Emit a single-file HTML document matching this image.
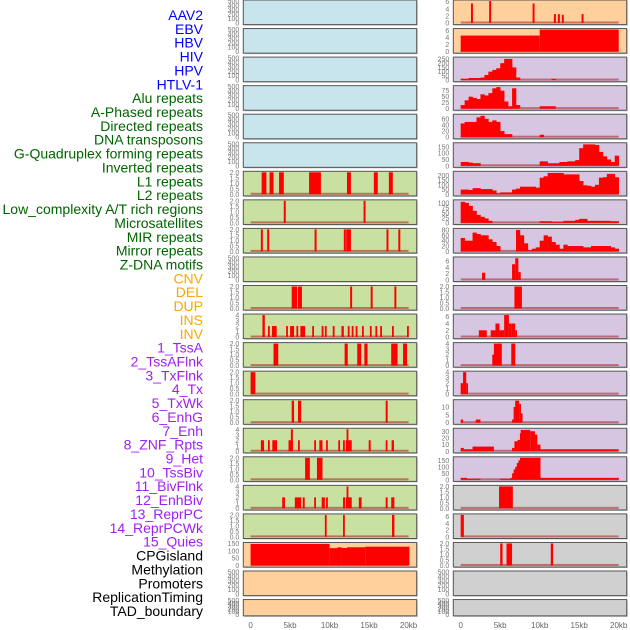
<!DOCTYPE html>
<html><head><meta charset="utf-8">
<style>
html,body{margin:0;padding:0;background:#fff;}
svg{display:block;font-family:"Liberation Sans",sans-serif;}
</style></head>
<body>
<svg id="chart" width="630" height="630" viewBox="0 0 630 630" xmlns="http://www.w3.org/2000/svg"></svg>
<script>
// ---------- labels ----------
const trackLabels = ["AAV2","EBV","HBV","HIV","HPV","HTLV-1","Alu repeats","A-Phased repeats","Directed repeats","DNA transposons","G-Quadruplex forming repeats","Inverted repeats","L1 repeats","L2 repeats","Low_complexity A/T rich regions","Microsatellites","MIR repeats","Mirror repeats","Z-DNA motifs","CNV","DEL","DUP","INS","INV","1_TssA","2_TssAFlnk","3_TxFlnk","4_Tx","5_TxWk","6_EnhG","7_Enh","8_ZNF_Rpts","9_Het","10_TssBiv","11_BivFlnk","12_EnhBiv","13_ReprPC","14_ReprPCWk","15_Quies","CPGisland","Methylation","Promoters","ReplicationTiming","TAD_boundary"];
const labelGroups = [6,13,5,15,5];
const groupColors = ["#0000ff","#006400","#ffa500","#a020f0","#000000"];
const xTickKb = [0,5,10,15,20];
const xTickLabels = ["0","5kb","10kb","15kb","20kb"];

// ---------- tick sets ----------
const ticksEmpty = ["0","100","200","300","400","500"];
const ticks2 = ["0.0","0.5","1.0","1.5","2.0"];
const ticks4 = ["0","1","2","3","4"];
const ticks6 = ["0","2","4","6"];

// ---------- left column data: [startKb, endKb, value] ----------
const leftL1 = [[1.4,2.0,2],[2.4,2.9,2],[3.6,4.2,2],[7.4,8.9,2],[12.2,12.7,2],[15.6,16.1,2],[17.5,18.0,2]];
const leftL2 = [[4.2,4.45,2],[14.3,14.55,2]];
const leftMicro = [[1.3,1.55,2],[2.1,2.35,2],[8.1,8.35,2],[11.8,12.05,2],[12.1,12.7,2],[17.2,17.45,2],[18.7,18.95,2]];
const leftDel = [[5.2,5.9,2],[6.0,6.5,2],[12.6,12.85,2],[15.2,15.45,2],[18.2,18.45,2]];
const leftIns = [[1.5,1.8,4],[2.2,2.4,2],[2.7,3.3,2],[4.5,4.7,2],[5.0,5.5,2],[5.8,6.0,2],[6.3,6.9,2],[7.8,8.0,2],[9.0,9.2,2],[9.4,9.6,2],[10.4,10.6,2],[11.5,11.8,2],[12.3,12.5,2],[12.8,13.0,2],[13.3,13.5,2],[14.1,14.3,2],[15.1,15.3,2],[15.8,16.0,2],[16.4,16.6,2],[17.9,18.1,2],[19.8,20.0,2]];
const leftTssA = [[2.9,3.5,2],[11.9,12.3,2],[13.5,14.0,2],[14.4,14.8,2],[17.8,18.6,2],[19.3,19.8,2]];
const leftTssAFlnk = [[0,0.6,2]];
const leftTx = [[5.2,5.5,2],[6.0,6.4,2],[17.1,17.35,2]];
const leftEnhG = [[1.3,1.7,2],[2.2,2.4,2],[2.75,3.35,2],[4.8,5.35,2],[5.1,5.35,4],[6.0,6.2,2],[8.05,8.25,2],[8.7,9.1,2],[9.55,9.75,2],[11.1,11.3,2],[11.7,11.9,2],[12.05,12.8,2],[12.15,12.35,4],[14.95,15.2,2],[17.1,17.3,2],[17.85,18.15,2]];
const leftZnf = [[6.9,7.5,2],[8.4,9.1,2]];
const leftTssBiv = [[4.0,4.35,2],[5.6,6.4,2],[6.6,6.85,2],[8.05,8.25,2],[9.0,9.4,2],[9.55,9.75,2],[11.7,11.95,2],[12.05,12.8,2],[12.15,12.35,4],[13.7,14.05,2],[17.1,17.35,2],[17.8,18.2,2]];
const leftEnhBiv = [[9.4,9.6,2],[11.7,11.9,2],[17.9,18.2,2]];
const leftCpg = [[0,10,147],[10,11,118],[11,11.5,124],[11.5,12.2,119],[12.2,14.5,124],[14.5,20.1,128]];

// ---------- right column data ----------
const rightAav2 = [[1.3,1.55,5.5],[3.6,3.85,6.2],[9.1,9.35,5.5],[11.8,12.05,2.5],[12.3,12.55,2.5],[12.8,13.05,2.3],[15.3,15.55,2.5]];
const rightEbv = [[0,10,4.5],[10,20,6.2]];
// histograms: values per 0.5kb bin (40 bins)
const rightHiv = [15,15,25,25,25,30,60,100,120,140,200,250,250,150,30,0,0,0,0,0,0,0,0,15,0,0,0,0,0,0,0,0,0,0,0,0,0,0,0,0];
const rightAlu = [15,35,50,45,40,60,55,65,85,90,75,30,10,85,15,0,0,0,0,0,10,10,10,10,0,0,0,0,0,0,0,0,0,0,0,0,0,0,0,0];
const rightDirected = [45,50,50,50,65,70,60,50,55,50,20,10,10,0,0,0,0,0,0,0,8,0,0,0,0,0,0,0,0,0,0,0,0,0,0,0,0,0,0,0];
const rightGquad = [30,30,25,20,20,0,0,0,0,0,0,0,0,0,0,0,0,0,0,0,35,35,20,20,20,30,30,35,35,45,140,170,170,170,165,110,75,50,30,80];
const rightL1 = [50,50,45,65,65,55,55,55,40,10,20,20,20,50,60,80,80,80,80,70,175,190,225,225,225,225,210,210,210,210,140,95,90,80,100,175,180,215,215,180];
const rightLowc = [105,100,85,60,40,30,22,10,0,0,0,0,0,0,0,0,0,0,0,0,8,8,8,5,5,5,10,10,10,15,20,20,10,10,10,10,10,10,8,8];
const rightMir = [50,40,40,70,65,60,60,45,35,20,0,0,0,0,80,60,30,5,10,15,40,60,55,35,25,10,25,20,20,20,20,15,15,20,20,20,20,20,15,10];
const rightZdna = [[2.7,3.1,2.3],[6.5,6.9,5],[6.9,7.3,6.9],[7.3,7.6,2.5]];
const rightCnv = [[6.8,7.75,2]];
const rightDel = [[2.3,3.3,2],[3.8,4.4,2],[4.4,4.9,4],[4.9,5.5,2],[5.5,6.1,6.5],[6.1,6.4,4],[6.4,6.9,4],[6.9,7.0,2]];
const rightDup = [[4.0,4.2,2],[4.2,5.2,4],[6.4,6.9,4]];
const rightIns = [[0,0.3,2],[0.3,0.7,4],[0.7,0.85,2]];
const rightInv = [[0,0.3,2],[1.9,2.5,2],[6.5,6.7,2],[6.7,6.9,10],[6.9,7.4,14],[7.4,7.6,12],[7.6,7.8,6]];
const rightTssA = [[0,0.4,5],[0.4,1.5,3],[1.5,4.2,7],[6.5,6.8,5],[6.8,7.2,15],[7.2,7.5,17],[7.5,7.6,27],[7.6,8.8,32],[8.8,9.4,30],[9.4,9.7,25],[9.7,10.1,10],[10.1,20,3]];
const rightTssAFlnk = [[0,0.8,15],[0.8,2.5,8],[5.0,6.3,8],[6.3,6.5,15],[6.5,6.7,50],[6.7,6.9,80],[6.9,7.1,100],[7.1,7.3,130],[7.3,7.5,150],[7.5,10.1,170],[10.1,20,15]];
const rightTx = [[4.85,6.6,2]];
const rightTxWk = [[0,0.4,6.5]];
const rightEnhG = [[5.0,5.3,2],[5.8,6.5,2],[11.4,11.7,2]];

// ---------- panel layout ----------
const BG = {blue:"#c8e4ec",green:"#c8e0a0",orange:"#ffd09c",purple:"#d6c6e2",gray:"#d0d0d0"};
const panels = [
 // left
 {side:"L",row:0,bg:"blue",max:500,ticks:ticksEmpty,name:"aav2-left"},
 {side:"L",row:1,bg:"blue",max:500,ticks:ticksEmpty,name:"ebv-left"},
 {side:"L",row:2,bg:"blue",max:500,ticks:ticksEmpty,name:"hbv-left"},
 {side:"L",row:3,bg:"blue",max:500,ticks:ticksEmpty,name:"hiv-left"},
 {side:"L",row:4,bg:"blue",max:500,ticks:ticksEmpty,name:"hpv-left"},
 {side:"L",row:5,bg:"blue",max:500,ticks:ticksEmpty,name:"htlv-left"},
 {side:"L",row:6,bg:"green",max:2,ticks:ticks2,seg:leftL1,name:"l1-left"},
 {side:"L",row:7,bg:"green",max:2,ticks:ticks2,seg:leftL2,name:"l2-left"},
 {side:"L",row:8,bg:"green",max:2,ticks:ticks2,seg:leftMicro,name:"microsat-left"},
 {side:"L",row:9,bg:"green",max:500,ticks:ticksEmpty,name:"zdna-left"},
 {side:"L",row:10,bg:"green",max:2,ticks:ticks2,seg:leftDel,name:"del-left"},
 {side:"L",row:11,bg:"green",max:4,ticks:ticks4,seg:leftIns,name:"ins-left"},
 {side:"L",row:12,bg:"green",max:2,ticks:ticks2,seg:leftTssA,name:"tssa-left"},
 {side:"L",row:13,bg:"green",max:2,ticks:ticks2,seg:leftTssAFlnk,name:"tssaflnk-left"},
 {side:"L",row:14,bg:"green",max:2,ticks:ticks2,seg:leftTx,name:"tx-left"},
 {side:"L",row:15,bg:"green",max:4,ticks:ticks4,seg:leftEnhG,name:"enhg-left"},
 {side:"L",row:16,bg:"green",max:2,ticks:ticks2,seg:leftZnf,name:"znf-left"},
 {side:"L",row:17,bg:"green",max:4,ticks:ticks4,seg:leftTssBiv,name:"tssbiv-left"},
 {side:"L",row:18,bg:"green",max:2,ticks:ticks2,seg:leftEnhBiv,name:"enhbiv-left"},
 {side:"L",row:19,bg:"orange",max:150,ticks:["0","50","100","150"],tickVals:[0,50,100,150],seg:leftCpg,name:"cpg-left"},
 {side:"L",row:20,bg:"orange",max:500,ticks:ticksEmpty,name:"promoters-left"},
 {side:"L",row:21,bg:"orange",max:500,ticks:ticksEmpty,name:"tad-left"},
 // right
 {side:"R",row:0,bg:"orange",max:6.2,ticks:ticks6,tickVals:[0,2,4,6],seg:rightAav2,name:"aav2-right"},
 {side:"R",row:1,bg:"orange",max:6.2,ticks:ticks6,tickVals:[0,2,4,6],seg:rightEbv,name:"ebv-right"},
 {side:"R",row:2,bg:"purple",max:260,ticks:["0","50","100","150","200","250"],tickVals:[0,50,100,150,200,250],hist:rightHiv,name:"hiv-right"},
 {side:"R",row:3,bg:"purple",max:92,ticks:["0","25","50","75"],tickVals:[0,25,50,75],hist:rightAlu,name:"alu-right"},
 {side:"R",row:4,bg:"purple",max:72,ticks:["0","20","40","60"],tickVals:[0,20,40,60],hist:rightDirected,name:"directed-right"},
 {side:"R",row:5,bg:"purple",max:175,ticks:["0","50","100","150"],tickVals:[0,50,100,150],hist:rightGquad,name:"gquad-right"},
 {side:"R",row:6,bg:"purple",max:232,ticks:["0","50","100","150","200"],tickVals:[0,50,100,150,200],hist:rightL1,name:"l1-right"},
 {side:"R",row:7,bg:"purple",max:110,ticks:["0","25","50","75","100"],tickVals:[0,25,50,75,100],hist:rightLowc,name:"lowc-right"},
 {side:"R",row:8,bg:"purple",max:82,ticks:["0","20","40","60","80"],tickVals:[0,20,40,60,80],hist:rightMir,name:"mir-right"},
 {side:"R",row:9,bg:"purple",max:7,ticks:ticks6,tickVals:[0,2,4,6],seg:rightZdna,name:"zdna-right"},
 {side:"R",row:10,bg:"purple",max:2,ticks:ticks2,seg:rightCnv,name:"cnv-right"},
 {side:"R",row:11,bg:"purple",max:6.5,ticks:ticks6,tickVals:[0,2,4,6],seg:rightDel,name:"del-right"},
 {side:"R",row:12,bg:"purple",max:4,ticks:ticks4,seg:rightDup,name:"dup-right"},
 {side:"R",row:13,bg:"purple",max:4,ticks:ticks4,seg:rightIns,name:"ins-right"},
 {side:"R",row:14,bg:"purple",max:14,ticks:["0","5","10"],tickVals:[0,5,10],seg:rightInv,name:"inv-right"},
 {side:"R",row:15,bg:"purple",max:33,ticks:["0","10","20","30"],tickVals:[0,10,20,30],seg:rightTssA,name:"tssa-right"},
 {side:"R",row:16,bg:"purple",max:170,ticks:["0","50","100","150"],tickVals:[0,50,100,150],seg:rightTssAFlnk,name:"tssaflnk-right"},
 {side:"R",row:17,bg:"gray",max:2,ticks:ticks2,seg:rightTx,name:"tx-right"},
 {side:"R",row:18,bg:"gray",max:6.5,ticks:ticks6,tickVals:[0,2,4,6],seg:rightTxWk,name:"txwk-right"},
 {side:"R",row:19,bg:"gray",max:2,ticks:ticks2,seg:rightEnhG,name:"enhg-right"},
 {side:"R",row:20,bg:"gray",max:500,ticks:ticksEmpty,name:"promoters-right"},
 {side:"R",row:21,bg:"gray",max:500,ticks:ticksEmpty,name:"tad-right"}
];

const NS = "http://www.w3.org/2000/svg";
const svg = document.getElementById("chart");
function mk(tag, attrs, parent){
  const e = document.createElementNS(NS, tag);
  for (const k in attrs) e.setAttribute(k, attrs[k]);
  (parent||svg).appendChild(e);
  return e;
}
function rowTop(i){ return i*28.55; }
function rowH(i){ return i===21 ? 16.3 : 24.6; }
function panelX(side){ return side==="L" ? 243.3 : 453.3; }
const PW = 173.4;
function xS(side, kb){ return (side==="L" ? 250.6 : 460.7) + kb*7.9; }
function yS(row, max, v){ const t=rowTop(row)+1, h=rowH(row)-2.6; return t + h*(1 - Math.min(v,max)/max); }

// labels
let idx = 0;
labelGroups.forEach((n,g)=>{
  for (let k=0;k<n;k++){
    const t = mk("text",{x:203,y:(15+idx*13.86+5).toFixed(1),"text-anchor":"end","font-size":"14",fill:groupColors[g]});
    t.textContent = trackLabels[idx];
    
    
    idx++;
  }
});

// panels
panels.forEach(p=>{
  const g = mk("g",{});
  
  
  const top = rowTop(p.row), h = rowH(p.row), px = panelX(p.side);
  mk("rect",{x:px+1,y:top+1,width:PW,height:h,fill:"#bbb"},g);
  const bg = mk("rect",{x:px,y:top,width:PW,height:h,fill:BG[p.bg],stroke:"#555","stroke-width":1},g);
  
  
  // ticks
  const n = p.ticks.length;
  p.ticks.forEach((lab,i)=>{
    const v = p.tickVals ? p.tickVals[i] : p.max*i/(n-1);
    const t = mk("text",{x:px-4,y:(yS(p.row,p.max,v)+2.5).toFixed(1),"text-anchor":"end","font-size":"7",fill:"#777"},g);
    t.textContent = lab;
    
    
  });
  const hasData = p.seg || p.hist;
  if (hasData){
    const base = yS(p.row,p.max,0);
    const bl = mk("rect",{x:xS(p.side,0),y:base-1.5,width:xS(p.side,20)-xS(p.side,0),height:2,fill:"rgba(170,30,30,0.55)"},g);
    
    
  }
  if (p.seg){
    p.seg.forEach(s=>{
      const x0 = xS(p.side,s[0]), x1 = Math.max(xS(p.side,s[1]), x0+1.8);
      const y = yS(p.row,p.max,s[2]);
      const r = mk("rect",{x:x0.toFixed(2),y:y.toFixed(2),width:(x1-x0).toFixed(2),height:(yS(p.row,p.max,0)-y).toFixed(2),fill:"#ff0000"},g);
      
      
    });
  }
  if (p.hist){
    p.hist.forEach((v,i)=>{
      if (v<=0) return;
      const x0 = xS(p.side,i*0.5), x1 = xS(p.side,(i+1)*0.5);
      const y = yS(p.row,p.max,v);
      const r = mk("rect",{x:x0.toFixed(2),y:y.toFixed(2),width:(x1-x0+0.3).toFixed(2),height:(yS(p.row,p.max,0)-y).toFixed(2),fill:"#ff0000"},g);
      
      
    });
  }
});

// x axes
["L","R"].forEach(side=>{
  xTickKb.forEach((kb,i)=>{
    const t = mk("text",{x:xS(side,kb).toFixed(1),y:628,"text-anchor":"middle","font-size":"8",fill:"#666"});
    t.textContent = xTickLabels[i];
    
    
  });
});
</script>
</body></html>
